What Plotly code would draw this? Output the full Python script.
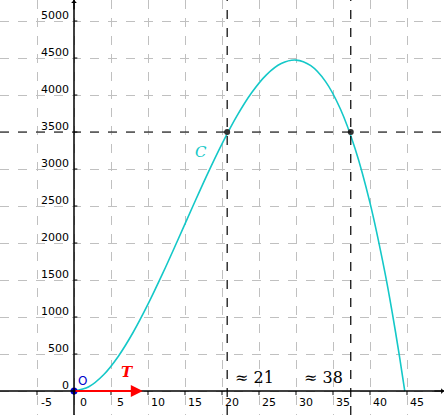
import plotly.graph_objects as go

# Curve C
curve_x = [0, 2, 4, 6, 8, 10, 12, 14, 16, 18, 20, 22, 24, 26, 28, 30, 32, 34, 36, 38, 40, 42, 43, 44, 44.7]
curve_y = [0, 58, 220, 471, 794, 1173, 1592, 2034, 2483, 2924, 3339, 3714, 4030, 4273, 4425, 4472,
           4396, 4181, 3811, 3270, 2542, 1610, 1062, 458, 0]

level = 3500
cross_x = [20.7, 37.4]
cross_labels = ["≈ 21", "≈ 38"]

x_ticks = [-5, 0, 5, 10, 15, 20, 25, 30, 35, 40, 45]
x_tick_labels = ["-5", "0", "5", "10", "15", "20", "25", "30", "35", "40", "45"]
y_ticks = [0, 500, 1000, 1500, 2000, 2500, 3000, 3500, 4000, 4500, 5000]
y_tick_labels = ["0", "500", "1000", "1500", "2000", "2500", "3000", "3500", "4000", "4500", "5000"]

x_range = [-10, 50]
y_range = [-324, 5284]

T_end = 9.3

fig = go.Figure()

shapes = []
# axes
shapes.append(dict(type="line", x0=x_range[0], x1=x_range[1], y0=0, y1=0, line=dict(color="black", width=1.5), layer="above"))
shapes.append(dict(type="line", x0=0, x1=0, y0=y_range[0], y1=y_range[1], line=dict(color="black", width=1.5), layer="above"))
# tick marks
for t in x_ticks:
    shapes.append(dict(type="line", x0=t, x1=t, y0=0, y1=-55, line=dict(color="black", width=1)))
for t in y_ticks[1:]:
    shapes.append(dict(type="line", x0=0, x1=0.45, y0=t, y1=t, line=dict(color="black", width=1)))
# dashed guide lines
shapes.append(dict(type="line", x0=x_range[0], x1=x_range[1], y0=level, y1=level, line=dict(color="black", width=1.2, dash="dash")))
for cx in cross_x:
    shapes.append(dict(type="line", x0=cx, x1=cx, y0=y_range[0], y1=y_range[1], line=dict(color="black", width=1.2, dash="dash")))

fig.add_trace(go.Scatter(x=curve_x, y=curve_y, mode="lines", line=dict(color="#14c8c8", width=1.6, shape="spline"),
                         hoverinfo="skip", showlegend=False))
fig.add_trace(go.Scatter(x=cross_x, y=[level] * len(cross_x), mode="markers",
                         marker=dict(color="#333333", size=6), showlegend=False))

annotations = []
# T arrow
annotations.append(dict(x=T_end, y=0, ax=0, ay=0, axref="x", ayref="y", xref="x", yref="y", text="",
                        showarrow=True, arrowhead=2, arrowsize=1.2, arrowwidth=2, arrowcolor="#ff0000"))
# axis arrows
annotations.append(dict(x=x_range[1], y=0, ax=x_range[1] - 1.5, ay=0, axref="x", ayref="y", text="",
                        showarrow=True, arrowhead=1, arrowsize=0.8, arrowwidth=1.2, arrowcolor="black"))
annotations.append(dict(x=0, y=y_range[1], ax=0, ay=y_range[1] - 150, axref="x", ayref="y", text="",
                        showarrow=True, arrowhead=1, arrowsize=0.8, arrowwidth=1.2, arrowcolor="black"))
# tick labels
for t, lab in zip(x_ticks, x_tick_labels):
    annotations.append(dict(x=t + 1.35, y=-150, text=lab, showarrow=False, xanchor="center", yanchor="middle",
                            font=dict(family="DejaVu Sans", size=11, color="black")))
for t, lab in zip(y_ticks, y_tick_labels):
    annotations.append(dict(x=-0.45, y=t + 75, text=lab, showarrow=False, xanchor="right", yanchor="middle",
                            font=dict(family="DejaVu Sans", size=11, color="black")))
# labels
annotations.append(dict(x=1.2, y=140, text="O", showarrow=False, font=dict(family="DejaVu Sans", size=12, color="#0000cc")))
annotations.append(dict(x=7.2, y=260, text="<b><i>T</i></b>", showarrow=False, font=dict(family="DejaVu Serif", size=15, color="#ff0000")))
annotations.append(dict(x=17.2, y=3230, text="<i>C</i>", showarrow=False, font=dict(family="DejaVu Serif", size=15, color="#14c8c8")))
annotations.append(dict(x=cross_x[0] + 0.8, y=189, text=cross_labels[0], showarrow=False, xanchor="left",
                        font=dict(family="DejaVu Serif", size=16, color="black")))
annotations.append(dict(x=cross_x[1] - 0.8, y=189, text=cross_labels[1], showarrow=False, xanchor="right",
                        font=dict(family="DejaVu Serif", size=16, color="black")))

fig.add_trace(go.Scatter(x=[0], y=[0], mode="markers", marker=dict(color="#0000cc", size=7), showlegend=False))

fig.update_layout(
    width=444, height=415, margin=dict(l=0, r=0, t=0, b=0),
    plot_bgcolor="white", paper_bgcolor="white",
    shapes=shapes, annotations=annotations, showlegend=False,
    xaxis=dict(range=x_range, dtick=5, tick0=0, showgrid=True, gridcolor="#c0c0c0", griddash="dash", gridwidth=1,
               zeroline=False, showticklabels=False, ticks="", showline=False),
    yaxis=dict(range=y_range, dtick=500, tick0=0, showgrid=True, gridcolor="#c0c0c0", griddash="dash", gridwidth=1,
               zeroline=False, showticklabels=False, ticks="", showline=False),
)

fig.write_html("out.html", config={"displayModeBar": False},
               post_script="document.body.style.margin='0';document.body.style.overflow='hidden';")
